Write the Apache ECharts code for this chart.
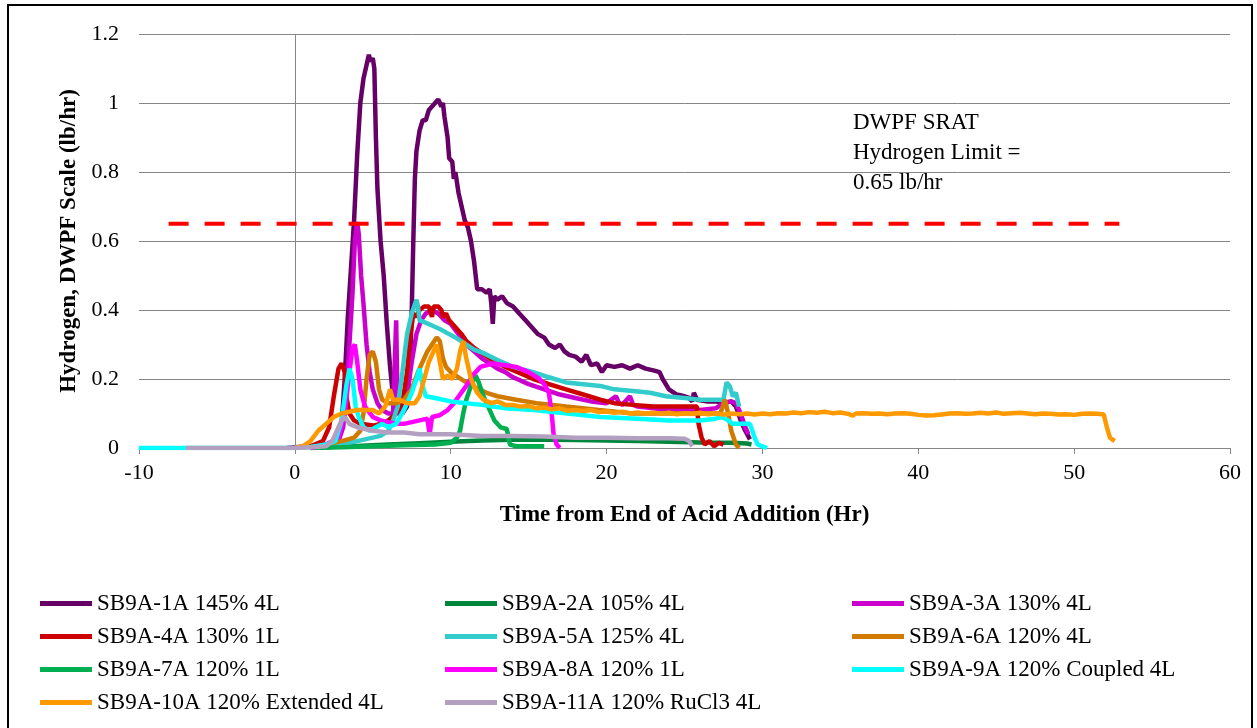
<!DOCTYPE html>
<html>
<head>
<meta charset="utf-8">
<script src="https://cdn.jsdelivr.net/npm/echarts@6/dist/echarts.min.js"></script>
<style>html,body{margin:0;padding:0;background:#fff}#c{width:1257px;height:728px}</style>
</head>
<body>
<div id="c"></div>
<script>
// ---- data (x = hours from end of acid addition, y = lb/hr) ----
const seriesNames = ['SB9A-1A 145% 4L','SB9A-2A 105% 4L','SB9A-3A 130% 4L','SB9A-4A 130% 1L','SB9A-5A 125% 4L','SB9A-6A 120% 4L','SB9A-7A 120% 1L','SB9A-8A 120% 1L','SB9A-9A 120% Coupled 4L','SB9A-10A 120% Extended 4L','SB9A-11A 120% RuCl3 4L'];
const xTicks = [-10,0,10,20,30,40,50,60];
const yTicks = [0,0.2,0.4,0.6,0.8,1,1.2];
const limitValue = 0.65;
const limitRange = [-8.1, 52.9];
const limitText = ['DWPF SRAT','Hydrogen Limit =','0.65 lb/hr'];

const s1A = [[-0.5,0],[0,0.002],[1,0.005],[2,0.01],[2.6,0.02],[3.0,0.07],[3.2,0.2],[3.4,0.38],[3.6,0.52],[3.8,0.66],[4.0,0.85],[4.2,1.0],[4.4,1.07],[4.6,1.11],[4.75,1.14],[4.85,1.12],[5.0,1.13],[5.1,1.1],[5.2,0.9],[5.3,0.75],[5.5,0.6],[5.7,0.5],[5.9,0.36],[6.1,0.24],[6.3,0.15],[6.6,0.11],[6.9,0.1],[7.2,0.12],[7.4,0.25],[7.5,0.4],[7.6,0.6],[7.7,0.78],[7.8,0.86],[8.0,0.92],[8.2,0.95],[8.4,0.95],[8.6,0.98],[8.8,0.99],[9.0,1.0],[9.2,1.01],[9.4,0.99],[9.5,1.0],[9.6,0.96],[9.8,0.9],[9.9,0.84],[10.1,0.83],[10.2,0.78],[10.3,0.8],[10.5,0.74],[10.7,0.7],[10.9,0.66],[11.1,0.64],[11.3,0.6],[11.5,0.54],[11.6,0.5],[11.7,0.46],[12.0,0.46],[12.3,0.45],[12.5,0.46],[12.6,0.42],[12.7,0.36],[12.8,0.44],[13.0,0.43],[13.3,0.44],[13.6,0.42],[14.0,0.41],[14.4,0.39],[14.8,0.37],[15.2,0.35],[15.6,0.33],[16.0,0.32],[16.3,0.3],[16.7,0.29],[17.0,0.3],[17.3,0.28],[17.6,0.27],[18.0,0.265],[18.4,0.25],[18.7,0.27],[19.0,0.24],[19.4,0.245],[19.7,0.22],[20.0,0.24],[20.5,0.235],[21.0,0.24],[21.5,0.23],[22.0,0.24],[22.5,0.23],[23.0,0.225],[23.4,0.22],[23.6,0.2],[24.0,0.17],[24.5,0.155],[25.0,0.15],[25.3,0.145],[25.5,0.135],[25.6,0.16],[25.8,0.14],[26.5,0.135],[27.0,0.135],[27.5,0.13],[28.0,0.135],[28.3,0.12],[28.6,0.08],[28.9,0.05],[29.2,0.025]];
const s2A = [[1.0,0],[2,0.002],[3,0.004],[4,0.006],[5,0.008],[6,0.01],[8,0.014],[10,0.018],[12,0.022],[14,0.024],[16,0.024],[18,0.023],[20,0.022],[22,0.02],[24,0.018],[26,0.016],[28,0.015],[29,0.013],[29.3,0.01]];
const s3A = [[1,0],[2,0.005],[2.8,0.02],[3.1,0.06],[3.3,0.15],[3.5,0.3],[3.7,0.45],[3.85,0.6],[4.0,0.655],[4.1,0.62],[4.25,0.5],[4.4,0.42],[4.6,0.3],[4.8,0.22],[5.0,0.17],[5.3,0.13],[5.6,0.11],[6.0,0.1],[6.3,0.1],[6.5,0.37],[6.6,0.1],[6.9,0.1],[7.2,0.15],[7.5,0.25],[7.8,0.33],[8.1,0.37],[8.4,0.39],[8.8,0.4],[9.2,0.39],[9.6,0.37],[10.0,0.36],[10.5,0.33],[11,0.3],[11.5,0.28],[12,0.26],[12.5,0.245],[13,0.23],[13.5,0.22],[14,0.205],[15,0.185],[16,0.17],[17,0.155],[18,0.145],[19,0.135],[20,0.13],[20.6,0.15],[20.8,0.13],[21,0.125],[21.5,0.15],[21.7,0.125],[22,0.12],[23,0.115],[24,0.11],[25,0.11],[26,0.11],[27,0.115],[27.5,0.13],[28,0.135],[28.3,0.13],[28.6,0.1],[28.9,0.06],[29.1,0.04]];
const s4A = [[0,0],[1,0.005],[1.8,0.02],[2.2,0.06],[2.5,0.15],[2.8,0.23],[3.0,0.245],[3.2,0.22],[3.3,0.15],[3.5,0.1],[3.8,0.08],[4.2,0.07],[5,0.065],[5.5,0.07],[6,0.08],[6.5,0.1],[6.9,0.13],[7.2,0.22],[7.4,0.32],[7.6,0.39],[7.8,0.38],[8.0,0.4],[8.3,0.41],[8.6,0.41],[8.8,0.38],[8.9,0.41],[9.2,0.41],[9.4,0.4],[9.5,0.38],[9.7,0.39],[9.9,0.37],[10.3,0.35],[10.7,0.33],[11,0.31],[11.5,0.29],[12,0.275],[12.7,0.255],[13.5,0.235],[14.3,0.22],[15.3,0.2],[16.3,0.185],[17.4,0.17],[18.5,0.155],[19.6,0.14],[20.5,0.13],[21.7,0.125],[23,0.12],[24,0.12],[25,0.12],[25.8,0.12],[25.9,0.07],[26.1,0.03],[26.3,0.01],[26.6,0.02],[26.9,0.005],[27.2,0.015],[27.5,0.01]];
const s5A = [[1,0],[2,0.005],[3,0.01],[4,0.02],[5,0.03],[5.5,0.035],[6,0.05],[6.3,0.08],[6.6,0.12],[6.9,0.22],[7.2,0.33],[7.5,0.39],[7.8,0.43],[7.9,0.41],[8.0,0.37],[8.3,0.365],[8.8,0.355],[9.3,0.345],[9.9,0.33],[10.5,0.315],[11,0.3],[11.5,0.285],[12.1,0.275],[13,0.255],[14,0.235],[15.3,0.22],[16.3,0.205],[17.4,0.19],[18.5,0.185],[19.6,0.18],[20.5,0.17],[21.7,0.165],[22.8,0.16],[23.8,0.15],[25,0.145],[26,0.14],[27.0,0.14],[27.5,0.14],[27.7,0.19],[27.9,0.18],[28.1,0.15],[28.3,0.16],[28.5,0.12]];
const s6A = [[1,0],[2,0.01],[3,0.02],[3.8,0.03],[4.2,0.05],[4.4,0.1],[4.6,0.2],[4.8,0.27],[5.0,0.28],[5.2,0.25],[5.4,0.17],[5.6,0.14],[6,0.13],[6.5,0.13],[7,0.14],[7.5,0.17],[7.9,0.22],[8.2,0.25],[8.5,0.28],[8.8,0.3],[9.1,0.32],[9.3,0.31],[9.5,0.26],[9.7,0.235],[10,0.22],[10.5,0.205],[11,0.19],[11.6,0.175],[12.3,0.16],[13,0.15],[14.2,0.14],[15.5,0.13],[17.4,0.12],[19.5,0.11],[21.7,0.1],[23.5,0.1],[25,0.1],[26.5,0.1],[27.3,0.1],[27.6,0.14],[27.8,0.1],[28.0,0.05],[28.3,0.01],[28.5,0.0]];
const s7A = [[1,0],[3,0.002],[5,0.005],[7,0.008],[9,0.01],[10,0.015],[10.4,0.03],[10.6,0.05],[10.8,0.1],[11.0,0.14],[11.3,0.18],[11.6,0.21],[11.8,0.19],[12.1,0.15],[12.4,0.12],[12.8,0.08],[13.2,0.06],[13.6,0.055],[13.8,0.01],[14.2,0.005],[16,0.005]];
const s8A = [[1,0],[2,0.01],[2.8,0.03],[3.2,0.1],[3.5,0.22],[3.7,0.29],[3.85,0.3],[4.0,0.25],[4.2,0.17],[4.5,0.12],[5,0.09],[5.5,0.08],[6,0.075],[6.5,0.07],[7,0.07],[7.5,0.075],[8,0.08],[8.5,0.085],[8.65,0.04],[8.8,0.09],[9.3,0.095],[9.8,0.11],[10.2,0.13],[10.6,0.155],[11,0.18],[11.4,0.21],[11.9,0.235],[12.7,0.245],[13.5,0.24],[14.2,0.235],[15,0.22],[15.7,0.2],[16.0,0.185],[16.3,0.16],[16.5,0.09],[16.6,0.04],[16.8,0.01],[17.0,0.0]];
const s9A = [[-10,0],[-7,0],[0,0],[1,0.003],[2,0.01],[2.6,0.02],[3.0,0.08],[3.3,0.18],[3.5,0.23],[3.7,0.2],[3.9,0.12],[4.1,0.09],[4.4,0.06],[4.8,0.05],[5.2,0.06],[5.6,0.07],[6.0,0.06],[6.5,0.07],[7.0,0.11],[7.5,0.16],[7.8,0.2],[8.0,0.23],[8.2,0.18],[8.4,0.15],[9,0.145],[10,0.135],[11,0.13],[12,0.125],[13.5,0.115],[15.3,0.11],[17.5,0.1],[19.6,0.09],[22,0.085],[24,0.08],[26,0.08],[27.0,0.085],[27.4,0.09],[27.8,0.08],[28.1,0.07],[29.2,0.07],[29.5,0.03],[29.7,0.01],[30.3,0.0]];
const s10A = [[0,0],[0.5,0.005],[1,0.02],[1.5,0.05],[2,0.07],[2.5,0.09],[3,0.1],[3.5,0.105],[4,0.11],[4.5,0.11],[5,0.11],[5.4,0.1],[5.8,0.12],[6.1,0.17],[6.3,0.14],[6.7,0.14],[7.2,0.13],[7.7,0.13],[8.0,0.15],[8.3,0.2],[8.6,0.25],[8.9,0.28],[9.1,0.3],[9.3,0.25],[9.5,0.2],[9.8,0.21],[10.1,0.2],[10.4,0.23],[10.6,0.28],[10.8,0.31],[11.0,0.26],[11.3,0.2],[11.7,0.16],[12.1,0.14],[12.6,0.13],[13,0.135],[13.5,0.125],[14,0.125],[14.5,0.12],[15,0.122],[15.5,0.115],[16,0.117],[16.5,0.112],[17,0.115],[17.5,0.108],[18,0.11],[18.5,0.107],[19,0.11],[19.5,0.104],[20,0.106],[20.5,0.102],[21,0.105],[21.5,0.1],[22,0.103],[22.5,0.1],[23,0.102],[23.5,0.099],[24,0.102],[24.5,0.098],[25,0.101],[25.5,0.099],[26,0.102],[26.5,0.098],[27,0.1],[27.5,0.097],[28,0.1],[28.5,0.098],[29,0.1],[29.5,0.097],[30,0.1],[30.5,0.098],[31,0.101],[31.5,0.1],[32,0.103],[32.5,0.101],[33,0.104],[33.5,0.102],[34,0.105],[34.5,0.101],[35,0.103],[35.5,0.099],[35.8,0.094],[36,0.1],[36.5,0.101],[37,0.099],[37.5,0.1],[38,0.098],[38.5,0.1],[39,0.101],[39.5,0.099],[40,0.096],[40.5,0.094],[41,0.095],[41.5,0.097],[42,0.1],[42.5,0.101],[43,0.099],[43.5,0.1],[44,0.102],[44.5,0.1],[45,0.103],[45.5,0.099],[46,0.101],[46.5,0.102],[47,0.1],[47.5,0.098],[48,0.1],[48.5,0.099],[49,0.097],[49.5,0.098],[50,0.096],[50.5,0.099],[51,0.1],[51.5,0.099],[51.9,0.097],[52.1,0.06],[52.3,0.03],[52.6,0.02]];
const s11A = [[-7,0],[0,0],[1,0.002],[2,0.005],[2.4,0.02],[2.7,0.05],[3.0,0.08],[3.2,0.09],[3.5,0.07],[4,0.06],[5,0.05],[6,0.045],[7,0.045],[8,0.04],[10,0.04],[12,0.035],[14,0.035],[16,0.033],[18,0.03],[20,0.03],[22,0.028],[24,0.028],[25,0.027],[25.3,0.02],[25.5,0.005]];

const seriesData = [s1A,s2A,s3A,s4A,s5A,s6A,s7A,s8A,s9A,s10A,s11A];
const colors = ['#660066','#00863D','#CC00CC','#CC0000','#33CCCC','#D07A00','#00B050','#FF00FF','#00FFFF','#FF9900','#B3A0C0'];

const FONT = '"Liberation Serif","Times New Roman",serif';
const chart = echarts.init(document.getElementById('c'));

const series = seriesData.map((d, i) => ({
  name: seriesNames[i], type: 'line', data: d, symbol: 'none', smooth: false,
  lineStyle: { color: colors[i], width: 4.5 }, itemStyle: { color: colors[i] },
  z: 2 + i
}));
series.unshift({
  name: '_zero', type: 'line', data: [], symbol: 'none', silent: true, z: 1,
  markLine: { silent: true, symbol: 'none', label: { show: false },
    lineStyle: { color: '#868686', width: 1, type: 'solid' }, data: [{ xAxis: 0 }] }
});
series.push({
  name: 'limit', type: 'line', data: [[limitRange[0], limitValue],[limitRange[1], limitValue]], symbol: 'none', silent: true,
  lineStyle: { color: '#FF0000', width: 4, type: [20, 16] }, z: 20
});

const legendCols = [[0,3,6,9],[1,4,7,10],[2,5,8]];
const legendLeft = [40, 445, 852];
const legends = legendCols.map((idx, k) => ({
  orient: 'vertical', left: legendLeft[k], top: 592, itemGap: 10, padding: 0,
  itemWidth: 52, itemHeight: 14,
  data: idx.map(i => ({ name: seriesNames[i], icon: 'path://M0,0 L52,0 L52,5 L0,5 Z', itemStyle: { color: colors[i] } })),
  textStyle: { fontFamily: FONT, fontSize: 23, color: '#000', lineHeight: 22, padding: [0,0,0,0] },
  selectedMode: false
}));

chart.setOption({
  animation: false,
  backgroundColor: '#fff',
  grid: { left: 139, right: 27, top: 34, bottom: 280, containLabel: false },
  legend: legends,
  xAxis: {
    type: 'value', min: xTicks[0], max: xTicks[xTicks.length-1], interval: 10,
    name: 'Time from End of Acid Addition (Hr)', nameLocation: 'middle', nameGap: 56,
    nameTextStyle: { fontFamily: FONT, fontSize: 23, fontWeight: 'bold', color: '#000' },
    axisLine: { show: true, onZero: false, lineStyle: { color: '#868686', width: 1 } },
    axisTick: { show: true, inside: false, length: 6, lineStyle: { color: '#868686' } },
    axisLabel: { fontFamily: FONT, fontSize: 22, color: '#000', margin: 14 },
    splitLine: { show: false }
  },
  yAxis: {
    type: 'value', min: yTicks[0], max: yTicks[yTicks.length-1], interval: 0.2,
    name: 'Hydrogen, DWPF Scale (lb/hr)', nameLocation: 'middle', nameGap: 53, nameRotate: 90,
    nameTextStyle: { fontFamily: FONT, fontSize: 23, fontWeight: 'bold', color: '#000' },
    axisLine: { show: false }, axisTick: { show: false },
    axisLabel: { fontFamily: FONT, fontSize: 22, color: '#000', margin: 20,
      formatter: v => String(Math.round(v * 10) / 10) },
    splitLine: { show: true, lineStyle: { color: '#868686', width: 1 } }
  },
  graphic: [
    { type: 'rect', shape: { x: 8, y: 5, width: 1244, height: 740 }, style: { fill: 'none', stroke: '#000', lineWidth: 2 }, silent: true, z: 100 },
    { type: 'text', left: 853, top: 108, style: { text: limitText.join('\n'), font: '23px ' + FONT, fill: '#000', lineHeight: 30 }, z: 100 }
  ],
  series: series
});
</script>
</body>
</html>
